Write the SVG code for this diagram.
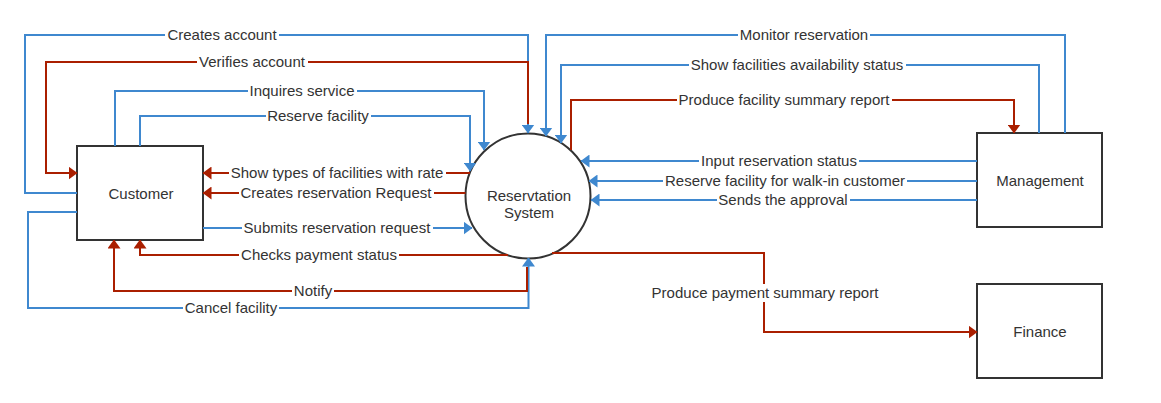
<svg xmlns="http://www.w3.org/2000/svg" width="1161" height="403" viewBox="0 0 1161 403">
<defs>
<style>
.bg{fill:#ffffff}
.node{fill:#ffffff;stroke:#333333;stroke-width:2}
.b{fill:none;stroke:#3F88CF;stroke-width:2;marker-end:url(#ab)}
.r{fill:none;stroke:#AA1F00;stroke-width:2;marker-end:url(#ar)}
.bn{fill:none;stroke:#3F88CF;stroke-width:2}
.rn{fill:none;stroke:#AA1F00;stroke-width:2}
.lb{fill:#ffffff}
text{font-family:"Liberation Sans",Arial,Helvetica,sans-serif;font-size:15px;fill:#333333;text-anchor:middle}
</style>
<marker id="ab" markerUnits="userSpaceOnUse" viewBox="0 0 9 13" markerWidth="9" markerHeight="13" refX="8.5" refY="6.5" orient="auto"><path d="M0,0 L9,6.5 L0,13 Z" fill="#3F88CF"/></marker>
<marker id="ar" markerUnits="userSpaceOnUse" viewBox="0 0 9 13" markerWidth="9" markerHeight="13" refX="8.5" refY="6.5" orient="auto"><path d="M0,0 L9,6.5 L0,13 Z" fill="#AA1F00"/></marker>
</defs>
<rect class="bg" x="0" y="0" width="1161" height="403"/>

<g id="customer"><rect class="node" x="77" y="146" width="126" height="94"/><text x="141" y="199">Customer</text></g>
<g id="reservation-system"><circle class="node" cx="528" cy="196" r="62.5"/><text x="529" y="201">Reservtation</text><text x="529" y="218">System</text></g>
<g id="management"><rect class="node" x="977" y="133" width="125" height="94"/><text x="1040" y="186">Management</text></g>
<g id="finance"><rect class="node" x="977" y="284" width="125" height="94"/><text x="1040" y="337">Finance</text></g>

<g id="connectors">
<g id="e-creates-account"><path class="b" d="M77,193 H25 V35 H528 V133"/><rect class="lb" x="165" y="26" width="114" height="18"/><text x="222" y="40">Creates account</text></g>
<g id="e-verifies-account"><path class="r" d="M528,124 V62 H46 V173 H77"/><rect class="lb" x="197" y="53" width="111" height="18"/><text x="252" y="67">Verifies account</text></g>
<g id="e-inquires-service"><path class="b" d="M115,146 V91 H484 V150"/><rect class="lb" x="248" y="82" width="109" height="18"/><text x="302" y="96">Inquires service</text></g>
<g id="e-reserve-facility"><path class="b" d="M140,146 V116 H470 V171"/><rect class="lb" x="266" y="107" width="105" height="18"/><text x="318" y="121">Reserve facility</text></g>
<g id="e-show-types"><path class="r" d="M470,173 H203"/><rect class="lb" x="229" y="164" width="217" height="18"/><text x="337" y="178">Show types of facilities with rate</text></g>
<g id="e-creates-request"><path class="r" d="M465.5,193 H203"/><rect class="lb" x="239" y="184" width="195" height="18"/><text x="336" y="198">Creates reservation Request</text></g>
<g id="e-submits-request"><path class="b" d="M203,228 H472"/><rect class="lb" x="242" y="219" width="191" height="18"/><text x="337" y="233">Submits reservation request</text></g>
<g id="e-checks-payment"><path class="r" d="M508,255 H140 V240"/><rect class="lb" x="239" y="246" width="160" height="18"/><text x="319" y="260">Checks payment status</text></g>
<g id="e-cancel-facility"><path class="b" d="M77,212 H28 V308 H528.5 V258"/><rect class="lb" x="183" y="299" width="96" height="18"/><text x="231" y="313">Cancel facility</text></g>
<g id="e-notify"><path class="r" d="M527,267 V291 H114 V240"/><rect class="lb" x="292" y="282" width="42" height="18"/><text x="313" y="296">Notify</text></g>
<g id="e-monitor"><path class="b" d="M1065,133 V35 H546 V136"/><rect class="lb" x="738" y="26" width="132" height="18"/><text x="804" y="40">Monitor reservation</text></g>
<g id="e-show-availability"><path class="b" d="M1039,133 V65 H561 V143"/><rect class="lb" x="689" y="56" width="217" height="18"/><text x="797" y="70">Show facilities availability status</text></g>
<g id="e-facility-report"><path class="r" d="M571,150 V100 H1014 V133"/><rect class="lb" x="677" y="91" width="215" height="18"/><text x="784" y="105">Produce facility summary report</text></g>
<g id="e-input-status"><path class="b" d="M977,161 H581"/><rect class="lb" x="699" y="152" width="160" height="18"/><text x="779" y="166">Input reservation status</text></g>
<g id="e-walkin"><path class="b" d="M977,181 H589"/><rect class="lb" x="663" y="172" width="244" height="18"/><text x="785" y="186">Reserve facility for walk-in customer</text></g>
<g id="e-approval"><path class="b" d="M977,200 H591"/><rect class="lb" x="717" y="191" width="133" height="18"/><text x="783" y="205">Sends the approval</text></g>
<g id="e-payment-report"><path class="r" d="M552,253 H764 V332 H977"/><rect class="lb" x="650" y="284" width="231" height="18"/><text x="765" y="298">Produce payment summary report</text></g>
</g>
</svg>
